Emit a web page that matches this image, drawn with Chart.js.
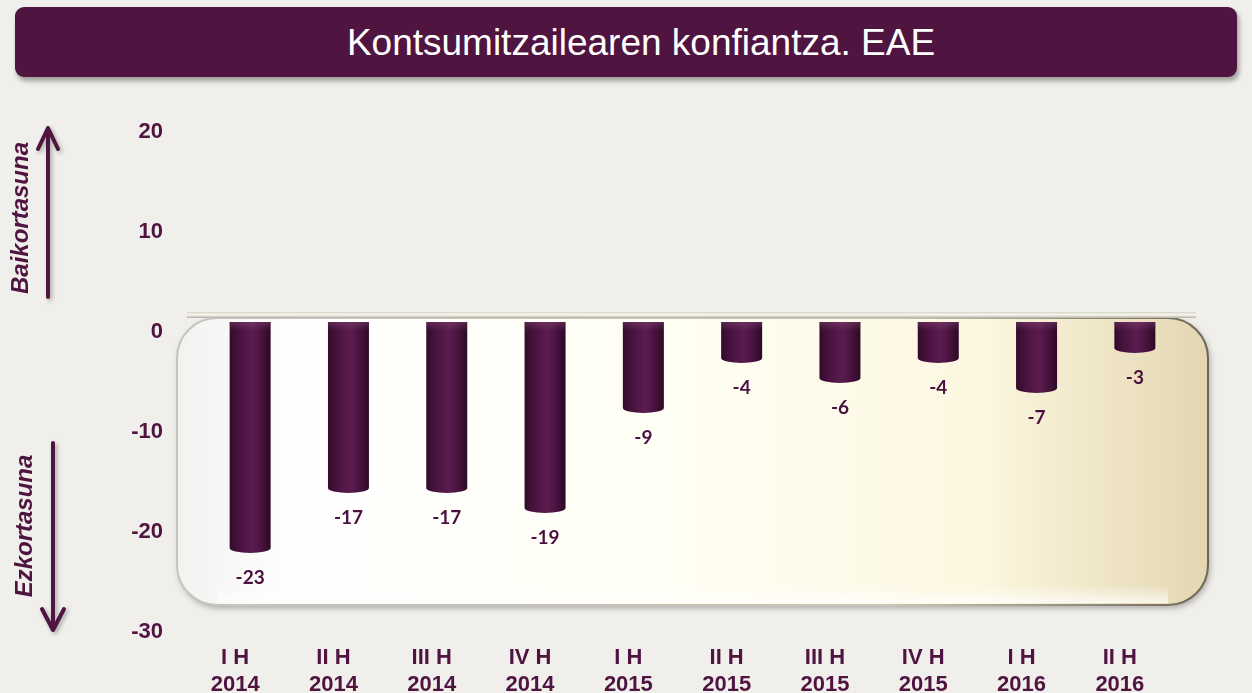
<!DOCTYPE html>
<html>
<head>
<meta charset="utf-8">
<script src="https://cdn.jsdelivr.net/npm/chart.js@4.4.0/dist/chart.umd.min.js"></script>
<style>
html, body { margin: 0; padding: 0; background: #f0efeb; width: 1252px; height: 693px; overflow: hidden; }
#titulo {
    position: absolute; left: 15px; top: 7px; width: 1222px; height: 70px;
    background: #4f1440; border-radius: 9px;
    box-shadow: 2px 4px 5px rgba(0,0,0,0.35);
    color: #fff; font-family: 'Liberation Sans', Arial, sans-serif; font-size: 37px;
    line-height: 72px; text-align: center; box-sizing: border-box; padding-left: 30px;
}
#wrap { position: absolute; left: 0; top: 0; width: 1252px; height: 693px; }
</style>
</head>
<body>
<div id="titulo">Kontsumitzailearen konfiantza. EAE</div>
<div id="wrap"><canvas id="grafico"></canvas></div>
<script>
// datos
const categorias = [
    ['I H', '2014'], ['II H', '2014'], ['III H', '2014'], ['IV H', '2014'],
    ['I H', '2015'], ['II H', '2015'], ['III H', '2015'], ['IV H', '2015'],
    ['I H', '2016'], ['II H', '2016']
];
const valores = [-23, -17, -17, -19, -9, -4, -6, -4, -7, -3];
const ticksY = [20, 10, 0, -10, -20, -30];

const MORADO = '#4f1440';

function degradadoBarra(ctx, bar) {
    const w = bar.width;
    const gr = ctx.createLinearGradient(bar.x - w / 2, 0, bar.x + w / 2, 0);
    gr.addColorStop(0, '#320b2a');
    gr.addColorStop(0.25, '#4a1340');
    gr.addColorStop(0.55, '#5a1c4e');
    gr.addColorStop(0.65, '#54184a');
    gr.addColorStop(0.88, '#3c0e33');
    gr.addColorStop(1, '#2c0924');
    return gr;
}

// panel redondeado detras de las barras
const panelPlugin = {
    id: 'panel',
    beforeDatasetsDraw(chart) {
        const ctx = chart.ctx;
        const y0 = chart.scales.y.getPixelForValue(0);
        const x1 = 177, x2 = 1208, top = y0 - 4, bottom = 605;
        ctx.save();
        ctx.shadowColor = 'rgba(0,0,0,0.30)';
        ctx.shadowBlur = 6;
        ctx.shadowOffsetX = 2;
        ctx.shadowOffsetY = 3;
        const g = ctx.createLinearGradient(x1, 0, x2, 0);
        g.addColorStop(0, '#f2f2f0');
        g.addColorStop(0.12, '#ffffff');
        g.addColorStop(0.5, '#fffef3');
        g.addColorStop(0.78, '#fcf7e0');
        g.addColorStop(1, '#e4d6b2');
        ctx.fillStyle = g;
        ctx.beginPath();
        ctx.roundRect(x1, top, x2 - x1, bottom - top, 40);
        ctx.fill();
        ctx.restore();
        ctx.save();
        const gs = ctx.createLinearGradient(x1, 0, x2, 0);
        gs.addColorStop(0, '#c4c4c0');
        gs.addColorStop(0.7, '#c8c4b4');
        gs.addColorStop(1, '#6e6756');
        ctx.strokeStyle = gs;
        ctx.lineWidth = 2;
        ctx.beginPath();
        ctx.roundRect(x1, top, x2 - x1, bottom - top, 40);
        ctx.stroke();
        // brillo inferior
        const gb = ctx.createLinearGradient(0, bottom - 20, 0, bottom);
        gb.addColorStop(0, 'rgba(255,255,255,0)');
        gb.addColorStop(1, 'rgba(255,255,255,0.8)');
        ctx.fillStyle = gb;
        ctx.fillRect(x1 + 40, bottom - 20, x2 - x1 - 80, 18);
        // repisa superior
        const gl = ctx.createLinearGradient(0, top - 6, 0, top + 1);
        gl.addColorStop(0, '#d6d2c6');
        gl.addColorStop(0.4, '#fbf9f0');
        gl.addColorStop(1, '#9c978a');
        ctx.fillStyle = gl;
        ctx.fillRect(x1 + 10, top - 6, x2 - x1 - 22, 6);
        ctx.restore();
    },
    afterDatasetsDraw(chart) {
        const ctx = chart.ctx;
        const meta = chart.getDatasetMeta(0);
        ctx.save();
        meta.data.forEach((bar, i) => {
            const w = bar.width;
            const fin = bar.y - 4;
            const gr = degradadoBarra(ctx, bar);
            // cuerpo del cilindro
            ctx.fillStyle = gr;
            ctx.fillRect(bar.x - w / 2, bar.base, w, fin - bar.base);
            // base eliptica
            ctx.beginPath();
            ctx.ellipse(bar.x, fin, w / 2, 5, 0, 0, Math.PI);
            ctx.fill();
            // brillo en la parte de arriba
            const gt = ctx.createLinearGradient(0, bar.base, 0, bar.base + 9);
            gt.addColorStop(0, 'rgba(150,90,135,0.35)');
            gt.addColorStop(1, 'rgba(150,90,135,0)');
            ctx.fillStyle = gt;
            ctx.fillRect(bar.x - w / 2, bar.base, w, Math.min(9, fin - bar.base));
            // etiqueta
            ctx.fillStyle = '#4a1040';
            ctx.font = 'bold 19px Lato, "Liberation Sans", sans-serif';
            ctx.textAlign = 'center';
            ctx.textBaseline = 'middle';
            ctx.fillText(String(valores[i]), bar.x, bar.y + 26);
        });
        ctx.restore();
    },
    afterDraw(chart) {
        const ctx = chart.ctx;
        ctx.save();
        ctx.strokeStyle = MORADO;
        ctx.fillStyle = MORADO;
        ctx.lineWidth = 4;
        ctx.lineCap = 'round';
        ctx.lineJoin = 'round';
        ctx.shadowColor = 'rgba(0,0,0,0.3)';
        ctx.shadowBlur = 4;
        ctx.shadowOffsetX = 2;
        ctx.shadowOffsetY = 2;
        // flecha arriba
        ctx.beginPath();
        ctx.moveTo(48, 297); ctx.lineTo(48, 128);
        ctx.moveTo(38, 149); ctx.lineTo(48, 128); ctx.lineTo(58, 149);
        ctx.stroke();
        // flecha abajo
        ctx.beginPath();
        ctx.moveTo(53, 443); ctx.lineTo(53, 630);
        ctx.moveTo(42, 609); ctx.lineTo(53, 630); ctx.lineTo(64, 609);
        ctx.stroke();
        ctx.shadowColor = 'transparent';
        ctx.font = 'italic bold 24px "Liberation Sans", Arial, sans-serif';
        ctx.textAlign = 'center';
        ctx.textBaseline = 'middle';
        ctx.translate(21, 218);
        ctx.rotate(-Math.PI / 2);
        ctx.fillText('Baikortasuna', 0, 0);
        ctx.rotate(Math.PI / 2);
        ctx.translate(-21, -218);
        ctx.translate(25, 526);
        ctx.rotate(-Math.PI / 2);
        ctx.fillText('Ezkortasuna', 0, 0);
        ctx.restore();
    }
};

new Chart(document.getElementById('grafico'), {
    type: 'bar',
    data: {
        labels: categorias,
        datasets: [{
            data: valores,
            backgroundColor: 'rgba(0,0,0,0)',
            borderWidth: 0,
            barThickness: 41
        }]
    },
    options: {
        responsive: true,
        maintainAspectRatio: false,
        animation: false,
        layout: { padding: { top: 122, right: 68, left: 0, bottom: 0 } },
        plugins: {
            legend: { display: false },
            tooltip: { enabled: false }
        },
        scales: {
            x: {
                grid: { display: false, drawTicks: false },
                border: { display: false },
                afterFit: s => { s.height = 71; },
                ticks: {
                    color: MORADO,
                    padding: 22,
                    labelOffset: -15,
                    maxRotation: 0,
                    font: { family: '"Liberation Sans", Arial, sans-serif', size: 22, weight: 'bold', lineHeight: 1.25 }
                }
            },
            y: {
                min: -30,
                max: 20,
                grid: { display: false, drawTicks: false },
                border: { display: false },
                afterFit: s => { s.width = 201; },
                afterBuildTicks: s => { s.ticks = ticksY.map(v => ({ value: v })); },
                ticks: {
                    color: MORADO,
                    padding: 38,
                    labelOffset: 10,
                    font: { family: '"Liberation Sans", Arial, sans-serif', size: 22, weight: 'bold' }
                }
            }
        }
    },
    plugins: [panelPlugin]
});
</script>
</body>
</html>
